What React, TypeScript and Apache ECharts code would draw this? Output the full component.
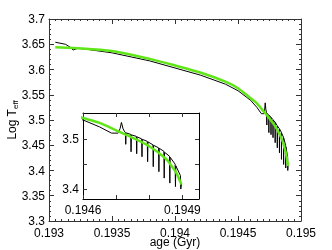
import React, { useEffect, useRef } from 'react';
import * as echarts from 'echarts';

const blackAge = [
  0.19305, 0.19313, 0.19317, 0.19319, 0.19323, 0.1933, 0.1935, 0.1938, 0.194, 0.1942, 0.1944, 0.1945,
  0.1946, 0.19465, 0.194686, 0.194706, 0.194712, 0.194716, 0.194721, 0.194726,
  0.194728, 0.194729, 0.19473,
  0.194744, 0.194745, 0.194746,
  0.194761, 0.194762, 0.194763,
  0.194777, 0.194778, 0.194779,
  0.194794, 0.194795, 0.194796,
  0.194811, 0.194812, 0.194813,
  0.194828, 0.194829, 0.19483,
  0.194844, 0.194845, 0.194846,
  0.194861, 0.194862, 0.194863,
  0.194878, 0.194879, 0.19488,
  0.194894, 0.194895, 0.194897,
];
const blackLogT = [
  3.654, 3.65, 3.644, 3.6386, 3.642, 3.64, 3.633, 3.617, 3.603, 3.589, 3.571, 3.558,
  3.539, 3.525, 3.5125, 3.5125, 3.522, 3.534, 3.521, 3.515,
  3.514, 3.49, 3.513,
  3.51, 3.475, 3.509,
  3.506, 3.471, 3.505,
  3.501, 3.465, 3.5,
  3.496, 3.455, 3.495,
  3.489, 3.445, 3.488,
  3.483, 3.435, 3.482,
  3.476, 3.422, 3.474,
  3.466, 3.412, 3.464,
  3.45, 3.405, 3.447,
  3.427, 3.4, 3.41,
];
const greenAge = [
  0.19305, 0.1932, 0.1935, 0.1938, 0.194, 0.1942, 0.1944, 0.1945, 0.1946, 0.19465, 0.1947,
  0.19475, 0.1948, 0.19485, 0.19487, 0.194882, 0.194897,
];
const greenLogT = [
  3.644, 3.6425, 3.6365, 3.621, 3.608, 3.594, 3.576, 3.563, 3.543, 3.533, 3.518,
  3.503, 3.486, 3.461, 3.444, 3.432, 3.409,
];
const insetXLabels = [0.1946, 0.1949];
const insetXTicks = [0.1946, 0.1947, 0.1948, 0.1949];
const insetYLabels = [3.4, 3.5];
const insetYTicks = [3.4, 3.45, 3.5];

export default function App() {
  const ref = useRef<HTMLDivElement>(null);
  useEffect(() => {
    const chart = echarts.init(ref.current!, null, { renderer: 'svg' });
    const black = blackAge.map((a, i) => [a, blackLogT[i]]);
    const green = greenAge.map((a, i) => [a, greenLogT[i]]);
    const font = 'Liberation Sans';
    const ac = '#333';
    const label = { color: '#000', fontSize: 12, fontFamily: font };
    const line = { show: true, lineStyle: { color: ac, width: 1 } };
    const tick = { show: true, inside: true, length: 5, lineStyle: { color: ac } };
    const minor = (n: number) => ({ show: true, splitNumber: n, length: 2, lineStyle: { color: ac } });
    const mainX = (pos: string, showLabel: boolean) => ({
      gridIndex: 0, type: 'value', min: 0.193, max: 0.195, interval: 0.0005, position: pos,
      axisLine: line, axisTick: tick, minorTick: minor(10), splitLine: { show: false },
      axisLabel: { ...label, show: showLabel, margin: 6 },
    });
    const mainY = (pos: string, showLabel: boolean) => ({
      gridIndex: 0, type: 'value', min: 3.3, max: 3.7, interval: 0.05, position: pos,
      axisLine: line, axisTick: tick, minorTick: minor(5), splitLine: { show: false },
      axisLabel: { ...label, show: showLabel, margin: 4 },
    });
    const insetX = (pos: string, showLabel: boolean) => ({
      gridIndex: 1, type: 'value', min: 0.1946, max: 0.19495, position: pos,
      axisLine: { show: true, lineStyle: { color: '#000', width: 1 } },
      axisTick: { show: true, inside: true, length: 4, lineStyle: { color: ac }, customValues: insetXTicks },
      splitLine: { show: false },
      axisLabel: { ...label, show: showLabel, margin: 5, customValues: insetXLabels, formatter: (v: number) => v.toFixed(4) },
    });
    const insetY = (pos: string, showLabel: boolean) => ({
      gridIndex: 1, type: 'value', min: 3.38, max: 3.553, position: pos,
      axisLine: { show: true, lineStyle: { color: '#000', width: 1 } },
      axisTick: { show: true, inside: true, length: 4, lineStyle: { color: ac }, customValues: insetYTicks },
      splitLine: { show: false },
      axisLabel: { ...label, show: showLabel, margin: 4, customValues: insetYLabels, formatter: (v: number) => v.toFixed(1) },
    });
    const x0 = mainX('bottom', true) as any;
    x0.name = 'age (Gyr)';
    x0.nameLocation = 'middle';
    x0.nameGap = 15;
    x0.nameMoveOverlap = false;
    x0.nameTextStyle = { ...label };
    const y0 = mainY('left', true) as any;
    y0.name = '{a|Log T}{b|eff}';
    y0.nameLocation = 'middle';
    y0.nameRotate = 90;
    y0.nameGap = 30;
    y0.nameMoveOverlap = false;
    y0.nameTextStyle = {
      ...label,
      rich: {
        a: { fontSize: 12, fontFamily: font, color: '#000' },
        b: { fontSize: 8, fontFamily: font, color: '#000', padding: [7, 0, 0, 0] },
      },
    };
    chart.setOption({
      animation: false,
      grid: [
        { left: 49, top: 19, width: 252, height: 202, show: false, outerBoundsMode: 'none', containLabel: false },
        { left: 83, top: 113, width: 116, height: 86, show: false, outerBoundsMode: 'none', containLabel: false },
      ],
      xAxis: [x0, mainX('top', false), insetX('bottom', true), insetX('top', false)],
      yAxis: [y0, mainY('right', false), insetY('left', true), insetY('right', false)],
      series: [
        { type: 'line', xAxisIndex: 0, yAxisIndex: 0, data: black, showSymbol: false, lineStyle: { color: '#000', width: 1 }, z: 2 },
        { type: 'line', xAxisIndex: 0, yAxisIndex: 0, data: green, showSymbol: false, smooth: 0.3, lineStyle: { color: '#5fe616', width: 2.5 }, z: 3 },
        { type: 'line', xAxisIndex: 2, yAxisIndex: 2, data: black, showSymbol: false, clip: true, lineStyle: { color: '#000', width: 1 }, z: 2 },
        { type: 'line', xAxisIndex: 2, yAxisIndex: 2, data: green, showSymbol: false, clip: true, smooth: 0.3, lineStyle: { color: '#5fe616', width: 2.5 }, z: 3 },
      ],
    });
    return () => chart.dispose();
  }, []);
  return <div ref={ref} style={{ position: 'fixed', left: 0, top: 0, width: 332, height: 250 }} />;
}
